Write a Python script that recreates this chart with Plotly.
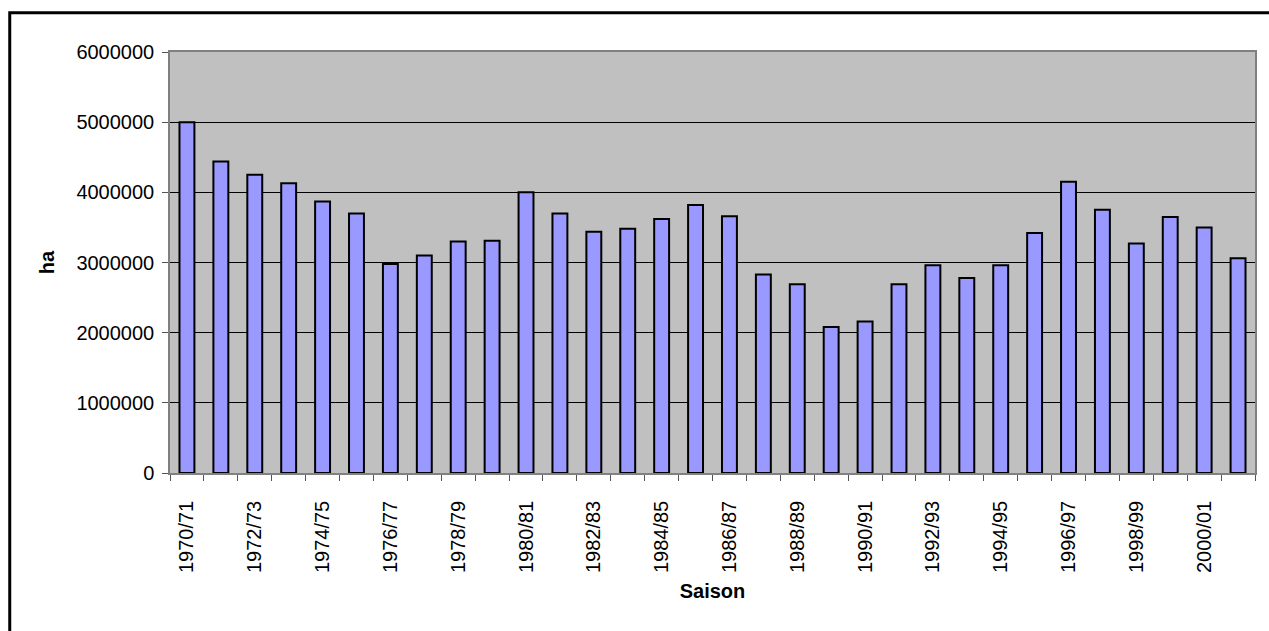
import plotly.graph_objects as go

# Seasons on the category axis
seasons = [
    "1970/71", "1971/72", "1972/73", "1973/74", "1974/75", "1975/76", "1976/77", "1977/78",
    "1978/79", "1979/80", "1980/81", "1981/82", "1982/83", "1983/84", "1984/85", "1985/86",
    "1986/87", "1987/88", "1988/89", "1989/90", "1990/91", "1991/92", "1992/93", "1993/94",
    "1994/95", "1995/96", "1996/97", "1997/98", "1998/99", "1999/00", "2000/01", "2001/02",
]

# Area per season (ha)
area_ha = [
    5000000, 4440000, 4250000, 4130000, 3870000, 3700000, 2980000, 3100000,
    3300000, 3310000, 4000000, 3700000, 3440000, 3480000, 3620000, 3820000,
    3660000, 2830000, 2690000, 2080000, 2160000, 2690000, 2960000, 2780000,
    2960000, 3420000, 4150000, 3750000, 3270000, 3650000, 3500000, 3060000,
]

# Only every second season gets a printed label
tick_text = [s if i % 2 == 0 else "" for i, s in enumerate(seasons)]

FONT = "Liberation Sans, Arial, sans-serif"

fig = go.Figure(
    go.Bar(
        x=seasons,
        y=area_ha,
        marker=dict(color="#9999FF", line=dict(color="#000000", width=2)),
        hoverinfo="x+y",
    )
)

fig.update_layout(
    width=1269,
    height=631,
    margin=dict(l=170, r=12, t=52, b=158),
    paper_bgcolor="#FFFFFF",
    plot_bgcolor="#C0C0C0",
    bargap=0.56,
    showlegend=False,
    font=dict(family=FONT, size=20, color="#000000"),
    xaxis=dict(
        type="category",
        tickmode="array",
        tickvals=seasons,
        ticktext=tick_text,
        tickangle=-90,
        tickson="boundaries",
        ticks="outside",
        ticklen=6,
        tickcolor="#555555",
        ticklabelstandoff=18,
        showline=True,
        linecolor="#808080",
        linewidth=1.5,
        mirror=True,
        showgrid=False,
        tickfont=dict(family=FONT, size=20),
        title=dict(text="<b>Saison</b>", font=dict(family=FONT, size=20), standoff=12),
    ),
    yaxis=dict(
        range=[0, 6000000],
        dtick=1000000,
        tickformat="d",
        ticks="outside",
        ticklen=6,
        tickcolor="#555555",
        ticklabelstandoff=4,
        showline=True,
        linecolor="#808080",
        linewidth=1.5,
        mirror=True,
        showgrid=True,
        gridcolor="#000000",
        gridwidth=1,
        zeroline=False,
        tickfont=dict(family=FONT, size=20),
        title=dict(text="<b>ha</b>", font=dict(family=FONT, size=20), standoff=16),
    ),
    shapes=[
        # Frame around the whole chart area
        dict(
            type="rect",
            xref="paper",
            yref="paper",
            x0=-0.1477,
            x1=1.05,
            y0=-0.5,
            y1=1.0933,
            line=dict(color="#000000", width=3),
            fillcolor="rgba(0,0,0,0)",
            layer="below",
        )
    ],
)

fig.write_html("out.html")
